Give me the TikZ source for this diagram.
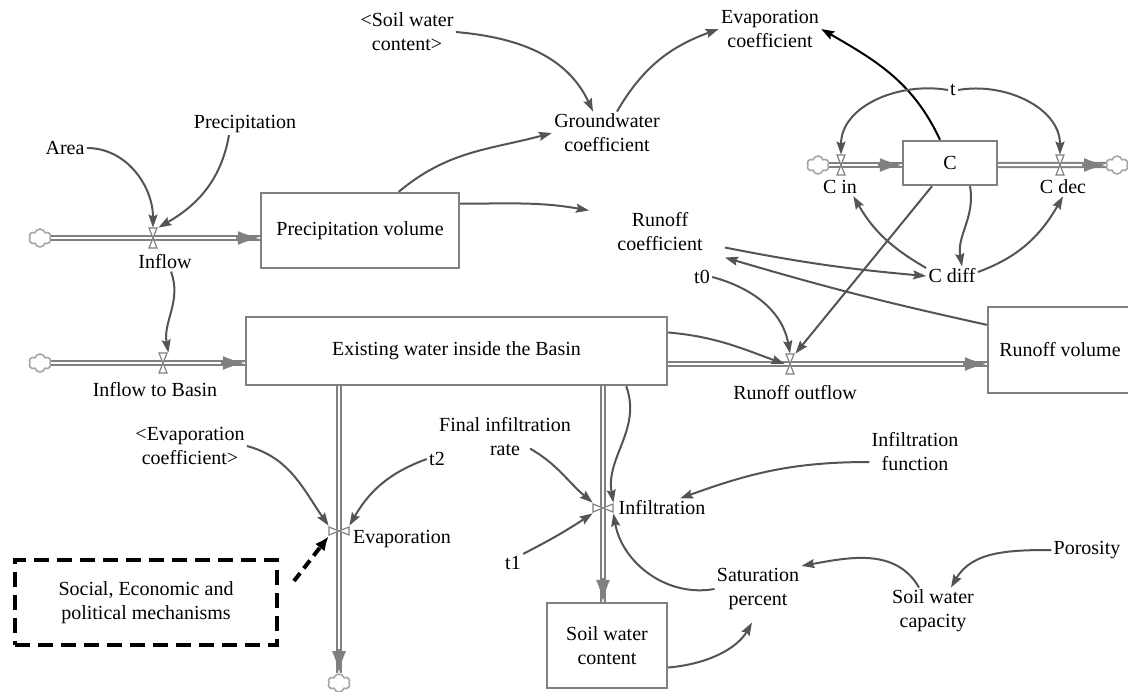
\documentclass[tikz,border=0pt]{standalone}
\usepackage{fontspec}
\setmainfont{Liberation Serif}
\usetikzlibrary{arrows.meta,shapes.symbols,calc}
\definecolor{linkgray}{gray}{0.33}
\definecolor{boxgray}{gray}{0.5}
\tikzset{
  stock/.style={draw=boxgray,line width=1.2pt,fill=white,align=center,inner sep=0pt},
  social/.style={draw=black,line width=2pt,dash pattern=on 7.5pt off 4pt,align=center,
    minimum width=131pt,minimum height=42.5pt},
  aux/.style={align=center,inner sep=1pt},
  hvalve/.style={inner sep=0pt,minimum width=5pt,minimum height=10pt},
  vvalve/.style={inner sep=0pt,minimum width=10pt,minimum height=5pt},
  cloudy/.style={cloud,cloud puffs=6,draw=boxgray!70,line width=0.8pt,inner sep=0pt,
    minimum width=11pt,minimum height=9pt},
  pipe/.style={draw=boxgray,line width=1pt,double=white,double distance=1.2pt},
  pipetip/.style={draw=boxgray,line width=1pt,-{Latex[length=11pt,width=7pt]}},
  link/.style={draw=linkgray,line width=1pt,-{Stealth[length=6.5pt,width=4.5pt,inset=1pt]}},
  hbowtie/.pic={\draw[boxgray,fill=white,line width=0.6pt]
    (-4,10)--(4,10)--(0,0)--cycle (-4,-10)--(4,-10)--(0,0)--cycle;},
  vbowtie/.pic={\draw[boxgray,fill=white,line width=0.6pt]
    (-10,-4)--(-10,4)--(0,0)--cycle (10,-4)--(10,4)--(0,0)--cycle;}
}
\begin{document}
\begin{tikzpicture}[x=0.5pt,y=0.5pt,font=\fontsize{10}{12}\selectfont]
  \useasboundingbox (0,0) rectangle (1128,-691);
  \node[stock,minimum width=99pt,minimum height=37.5pt] (prevol) at (360,-230.5) {Precipitation volume};
  \node[stock,minimum width=210.5pt,minimum height=34pt] (basin) at (456.5,-351) {Existing water inside the Basin};
  \node[stock,minimum width=47pt,minimum height=22pt] (cstock) at (950,-163) {C};
  \node[stock,minimum width=72pt,minimum height=43pt] (runvol) at (1060,-350) {Runoff volume};
  \node[stock,minimum width=60pt,minimum height=42.5pt] (soilwc) at (607,-645.5) {Soil water\\content};
  \node[social] (social) at (146,-602.5) {Social, Economic and\\political mechanisms};

  \node[cloudy] (cl1) at (40,-238) {};
  \node[cloudy] (cl2) at (40,-363) {};
  \node[cloudy] (cl3) at (818,-165) {};
  \node[cloudy] (cl4) at (1117,-165) {};
  \node[cloudy] (cl5) at (339,-683) {};

  \node[hvalve] (inflow) at (153,-238) {};
  \node[hvalve] (inbasin) at (163,-363) {};
  \node[hvalve] (runout) at (790,-364) {};
  \node[vvalve] (evap) at (339,-531) {};
  \node[vvalve] (infil) at (603,-508) {};
  \node[hvalve] (cin) at (841,-165) {};
  \node[hvalve] (cdec) at (1060,-165) {};

  \node[aux] (inflowlbl) at (165,-262) {Inflow};
  \node[aux] (inbasinlbl) at (155,-390) {Inflow to Basin};
  \node[aux] (runoutlbl) at (795,-393) {Runoff outflow};
  \node[aux] (evaplbl) at (402,-539) {Evaporation};
  \node[aux] (infillbl) at (662,-508) {Infiltration};
  \node[aux] (cinlbl) at (840,-187) {C in};
  \node[aux] (cdeclbl) at (1063,-187) {C dec};

  \node[aux] (area) at (65,-148) {Area};
  \node[aux] (precip) at (245,-124) {Precipitation};
  \node[aux] (swcs) at (407,-32) {<Soil water\\content>};
  \node[aux] (evapc) at (770,-29) {Evaporation\\coefficient};
  \node[aux] (gwc) at (607,-133) {Groundwater\\coefficient};
  \node[aux] (tt) at (953,-90) {t};
  \node[aux] (runc) at (660,-232) {Runoff\\coefficient};
  \node[aux] (cdiff) at (952,-276) {C diff};
  \node[aux] (tzero) at (702,-277) {t0};
  \node[aux] (fir) at (505,-437) {Final infiltration\\rate};
  \node[aux] (infun) at (915,-452) {Infiltration\\function};
  \node[aux] (ttwo) at (437,-459) {t2};
  \node[aux] (evapcs) at (190,-446) {<Evaporation\\coefficient>};
  \node[aux] (tone) at (513,-563) {t1};
  \node[aux] (satp) at (758,-589) {Saturation\\percent};
  \node[aux] (swcap) at (933,-611) {Soil water\\capacity};
  \node[aux] (poros) at (1087,-550) {Porosity};

  \draw[pipe] (cl1.east) -- (cl1.east -| prevol.west);
  \draw[pipe] (cl2.east) -- (cl2.east -| basin.west);
  \draw[pipe] (basin.east |- runout) -- (runout -| runvol.west);
  \draw[pipe] (evap |- basin.south) -- (cl5.north);
  \draw[pipe] (infil |- basin.south) -- (infil |- soilwc.north);
  \draw[pipe] (cl3.east) -- (cl3.east -| cstock.west);
  \draw[pipe] (cstock.east |- cdec) -- (cl4.west);
  \draw[pipetip] ($(cl1.east -| prevol.west)+(-24,0)$) -- (cl1.east -| prevol.west);
  \draw[pipetip] ($(cl2.east -| basin.west)+(-24,0)$) -- (cl2.east -| basin.west);
  \draw[pipetip] ($(runout -| runvol.west)+(-24,0)$) -- (runout -| runvol.west);
  \draw[pipetip] ($(cl5.north)+(0,24)$) -- (cl5.north);
  \draw[pipetip] ($(infil |- soilwc.north)+(0,24)$) -- (infil |- soilwc.north);
  \draw[pipetip] ($(cl3.east -| cstock.west)+(-24,0)$) -- (cl3.east -| cstock.west);
  \draw[pipetip] ($(cl4.west)+(-24,0)$) -- (cl4.west);

  \pic at (inflow) {hbowtie};
  \pic at (inbasin) {hbowtie};
  \pic at (runout) {hbowtie};
  \pic at (cin) {hbowtie};
  \pic at (cdec) {hbowtie};
  \pic at (evap) {vbowtie};
  \pic at (infil) {vbowtie};

  \begin{scope}[link]
    \draw (area.east) to[out=0,in=90] (inflow.north);
    \draw ([xshift=-8pt]precip.south) to[out=-100,in=30] (inflow.north east);
    \draw ([xshift=3pt]inflowlbl.south) to[out=-70,in=100] (inbasin.north east);
    \draw (prevol.45) to[out=40,in=195] (gwc.west);
    \draw (swcs.east) to[out=-5,in=115] ([xshift=-7pt]gwc.north);
    \draw ([xshift=5pt]gwc.north) to[out=60,in=200] (evapc.west);
    \draw[draw=black] ([xshift=-5pt]cstock.north) to[out=115,in=-30] (evapc.east);
    \draw (prevol.15) to[out=0,in=170] ([xshift=-13pt]runc.north west);
    \draw (tt.west) to[out=170,in=90] (cin.north);
    \draw (tt.east) to[out=10,in=90] (cdec.north);
    \draw ([xshift=10pt]cstock.south) to[out=-80,in=100] ([xshift=5pt]cdiff.north);
    \draw ([yshift=4pt]cdiff.west) to[out=150,in=-60] ([xshift=-3pt]cinlbl.south east);
    \draw ([yshift=2pt]cdiff.east) to[out=20,in=-120] (cdeclbl.south);
    \draw ($(runc.south east)+(20,6)$) to[bend right=3] (cdiff.west);
    \draw ($(runvol.north west)+(0,-19)$) to[bend left=2] ($(runc.south east)+(20,-4)$);
    \draw ([xshift=-9pt]cstock.south) -- (runout.north east);
    \draw (tzero.east) to[out=-15,in=100] (runout.north);
    \draw (basin.5) to[out=-5,in=160] (runout.west);
    \draw ($(basin.south east)+(-42,0)$) to[out=-70,in=100] (infil.north east);
    \draw ($(fir.south)+(25,10)$) to[out=-30,in=140] (infil.north west);
    \draw ([yshift=-5pt]infun.west) to[out=180,in=20] ([xshift=9pt]infillbl.north);
    \draw (tone.north east) to[bend right=3] (infil.south west);
    \draw (satp.west) to[out=190,in=-80] (infil.south east);
    \draw[shorten >=6pt] ($(soilwc.east)+(0,-22)$) to[out=5,in=-120] (satp.south);
    \draw ([xshift=-7pt]swcap.north) to[out=120,in=10] (satp.north east);
    \draw (poros.west) to[out=180,in=60] ([xshift=9pt]swcap.north);
    \draw (evapcs.east) to[out=-15,in=125] (evap.north west);
    \draw (ttwo.west) to[out=200,in=60] (evap.north east);
    \draw[draw=black,line width=2pt,dash pattern=on 5pt off 3pt,-{Latex[length=7pt,width=6pt]}]
      ($(social.north east)+(15,-23)$) -- (evap.south west);
  \end{scope}
\end{tikzpicture}
\end{document}
